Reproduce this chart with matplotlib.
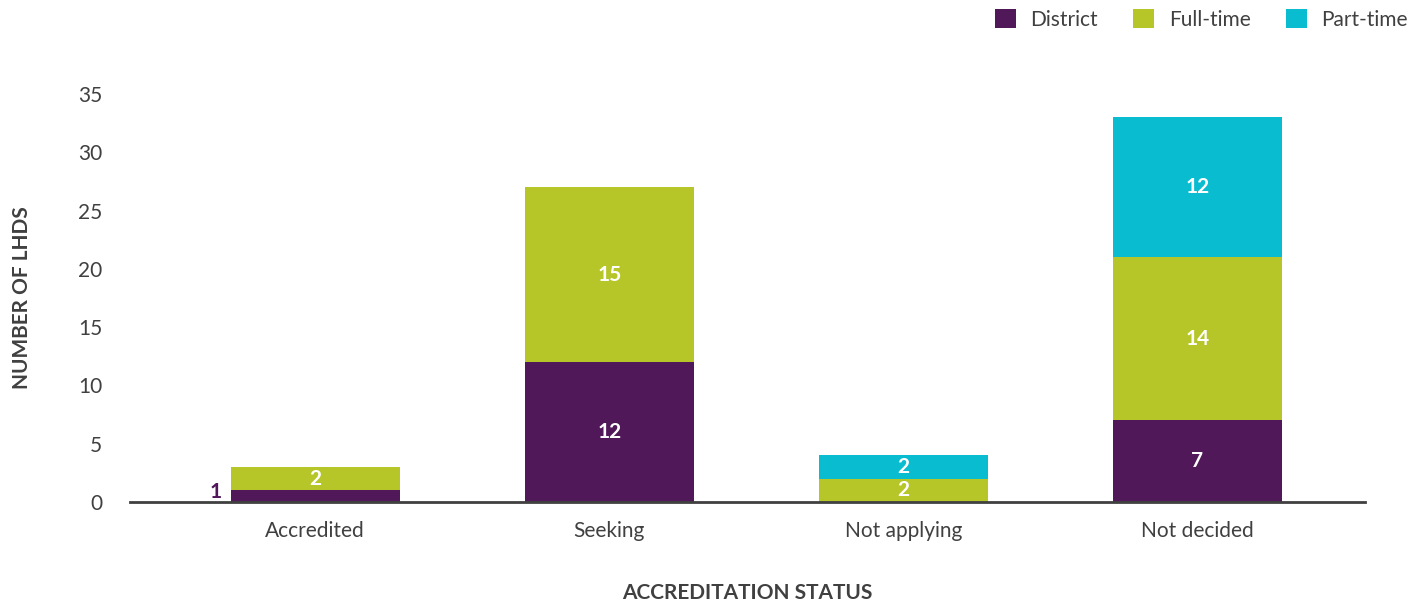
import matplotlib
matplotlib.use("Agg")
import matplotlib.pyplot as plt
from matplotlib.patches import Patch
import numpy as np

plt.rcParams['font.family'] = ['Lato', 'DejaVu Sans']

categories = ["Accredited", "Seeking", "Not applying", "Not decided"]
district = [1, 12, 0, 7]
full_time = [2, 15, 2, 14]
part_time = [0, 0, 2, 12]
series_names = ["District", "Full-time", "Part-time"]
y_ticks = [0, 5, 10, 15, 20, 25, 30, 35]

colors = ["#501759", "#B6C628", "#0ABCD0"]
text_grey = "#404040"
fs = 15

fig = plt.figure(figsize=(14.25, 6.03), dpi=100)
ax = fig.add_axes([130 / 1425, 1 - 502 / 603, (1365 - 130) / 1425, (502 - 94) / 603])

x = np.arange(len(categories))
width = 0.575
bottom = np.zeros(len(categories))
for vals, col in zip([district, full_time, part_time], colors):
    vals = np.array(vals, dtype=float)
    ax.bar(x, vals, width, bottom=bottom, color=col, linewidth=0, zorder=2)
    for xi, v, b in zip(x, vals, bottom):
        if v <= 0:
            continue
        if col == colors[0] and v < 2:
            # small district segment: label sits beside the bar
            ax.text(xi - width / 2 - 0.03, b + v * 0.9, f"{int(v)}", ha="right", va="center",
                    color=colors[0], fontsize=fs, fontweight="bold")
        else:
            ax.text(xi, b + v / 2, f"{int(v)}", ha="center", va="center",
                    color="white", fontsize=fs, fontweight="bold")
    bottom += vals

ax.set_xlim(-0.63, 3.57)
ax.set_ylim(0, 35)
ax.set_yticks(y_ticks)
ax.set_xticks(x)
ax.set_xticklabels(categories)
ax.tick_params(axis="both", length=0, labelsize=fs, colors=text_grey)
ax.tick_params(axis="y", pad=20)
ax.tick_params(axis="x", pad=14)
for s in ["left", "right", "top"]:
    ax.spines[s].set_visible(False)
ax.spines["bottom"].set_color(text_grey)
ax.spines["bottom"].set_linewidth(2)
ax.spines["bottom"].set_zorder(3)

ax.set_xlabel("ACCREDITATION STATUS", fontsize=fs, fontweight="bold", color=text_grey, labelpad=30)
ax.set_ylabel("NUMBER OF LHDS", fontsize=fs, fontweight="bold", color=text_grey, labelpad=33)

handles = [Patch(facecolor=c, edgecolor="none") for c in colors]
fig.legend(handles, series_names, loc="upper right", bbox_to_anchor=(1412 / 1425, 1 - 5 / 603),
           ncol=3, frameon=False, fontsize=fs, handlelength=1.0, handleheight=1.0,
           handletextpad=0.7, columnspacing=1.7, labelcolor=text_grey,
           borderaxespad=0, borderpad=0.2)

fig.savefig("out.png", dpi=100)
